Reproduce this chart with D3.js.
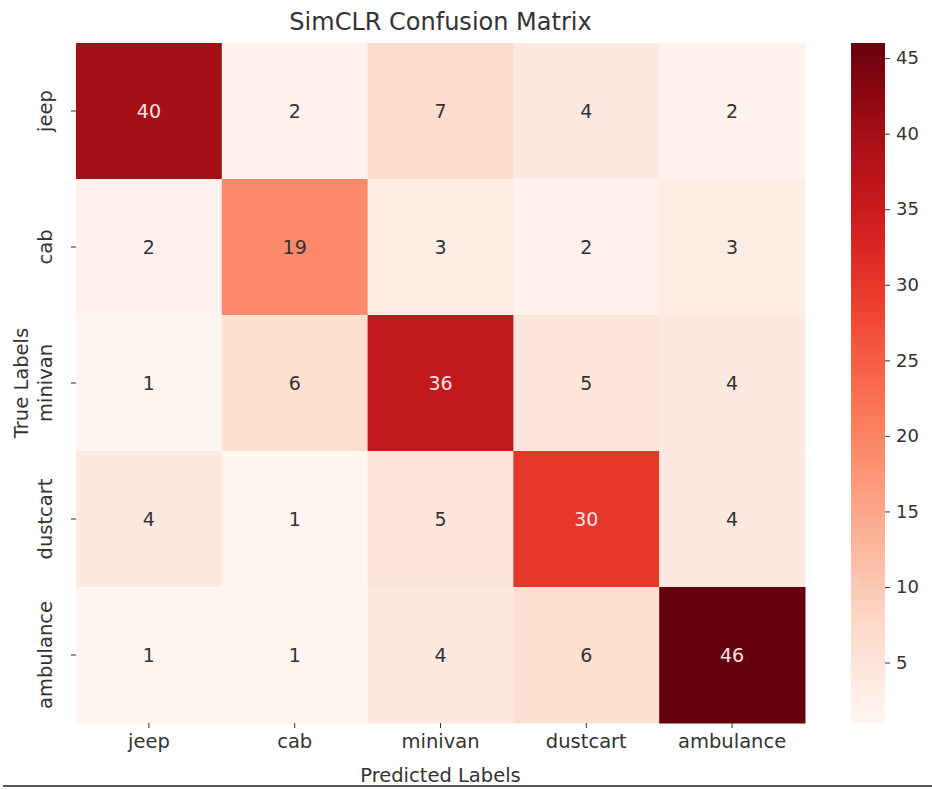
<!DOCTYPE html>
<html>
<head>
<meta charset="utf-8">
<script src="https://cdn.jsdelivr.net/npm/d3@7"></script>
<style>
  body { margin: 0; background: #fff; }
  svg text { font-family: "DejaVu Sans", sans-serif; fill: #333; }
</style>
</head>
<body>
<div id="chart"></div>
<script>
// Data
var classNames = ["jeep", "cab", "minivan", "dustcart", "ambulance"];
var matrixRows = [
    [40, 2, 7, 4, 2],
    [2, 19, 3, 2, 3],
    [1, 6, 36, 5, 4],
    [4, 1, 5, 30, 4],
    [1, 1, 4, 6, 46]
];
var colorTicks = [5, 10, 15, 20, 25, 30, 35, 40, 45];
var chartTitle = "SimCLR Confusion Matrix";
var xTitle = "Predicted Labels";
var yTitle = "True Labels";

// Layout
var width = 932, height = 790;
var plot = {left: 76, top: 43, right: 805, bottom: 723};
var bar = {left: 851, right: 885};

var svg = d3.select("#chart").append("svg")
    .attr("width", width)
    .attr("height", height);

var vmin = d3.min(matrixRows, function(r) { return d3.min(r); });
var vmax = d3.max(matrixRows, function(r) { return d3.max(r); });
var color = d3.scaleSequential(d3.interpolateReds).domain([vmin, vmax]);

var x = d3.scaleBand().domain(classNames).range([plot.left, plot.right]);
var y = d3.scaleBand().domain(classNames).range([plot.top, plot.bottom]);

var cells = [];
matrixRows.forEach(function(row, i) {
    row.forEach(function(v, j) {
        cells.push({t: classNames[i], p: classNames[j], v: v});
    });
});

// Heatmap cells
svg.append("g").selectAll("rect")
    .data(cells)
    .enter()
    .append("rect")
    .attr("x", function(d) { return x(d.p); })
    .attr("y", function(d) { return y(d.t); })
    .attr("width", x.bandwidth() + 0.5)
    .attr("height", y.bandwidth() + 0.5)
    .attr("fill", function(d) { return color(d.v); });

// Annotations, light text on dark cells
function isDark(v) {
    var c = d3.rgb(color(v));
    var lum = (0.299 * c.r + 0.587 * c.g + 0.114 * c.b) / 255;
    return lum < 0.6;
}
svg.append("g").selectAll("text")
    .data(cells)
    .enter()
    .append("text")
    .attr("x", function(d) { return x(d.p) + x.bandwidth() / 2; })
    .attr("y", function(d) { return y(d.t) + y.bandwidth() / 2; })
    .attr("text-anchor", "middle")
    .attr("dominant-baseline", "central")
    .style("font-size", "19px")
    .style("fill", function(d) { return isDark(d.v) ? "#f6e4e4" : "#333"; })
    .text(function(d) { return d.v; });

// Axes
var xAxis = svg.append("g")
    .attr("transform", "translate(0," + plot.bottom + ")")
    .call(d3.axisBottom(x).tickSize(5).tickPadding(6));
xAxis.select(".domain").remove();
xAxis.selectAll("text").style("font-size", "19.5px").attr("fill", "#333");
xAxis.selectAll("line").attr("stroke", "#333");

var yAxis = svg.append("g")
    .attr("transform", "translate(" + plot.left + ",0)")
    .call(d3.axisLeft(y).tickSize(5).tickPadding(6));
yAxis.select(".domain").remove();
yAxis.selectAll("line").attr("stroke", "#333");
yAxis.selectAll("text")
    .style("font-size", "19.5px")
    .attr("fill", "#333")
    .attr("text-anchor", "middle")
    .attr("dy", null)
    .attr("x", null)
    .attr("transform", "translate(-24,0) rotate(-90)");

// Colorbar
var defs = svg.append("defs");
var grad = defs.append("linearGradient")
    .attr("id", "cbGrad")
    .attr("x1", "0").attr("y1", "1").attr("x2", "0").attr("y2", "0");
d3.range(0, 1.0001, 0.05).forEach(function(t) {
    grad.append("stop")
        .attr("offset", t)
        .attr("stop-color", color(vmin + t * (vmax - vmin)));
});
svg.append("rect")
    .attr("x", bar.left)
    .attr("y", plot.top)
    .attr("width", bar.right - bar.left)
    .attr("height", plot.bottom - plot.top)
    .attr("fill", "url(#cbGrad)");

var cScale = d3.scaleLinear().domain([vmin, vmax]).range([plot.bottom, plot.top]);
var cAxis = svg.append("g")
    .attr("transform", "translate(" + bar.right + ",0)")
    .call(d3.axisRight(cScale).tickValues(colorTicks).tickSize(5).tickPadding(6));
cAxis.select(".domain").remove();
cAxis.selectAll("line").attr("stroke", "#333");
cAxis.selectAll("text").style("font-size", "18px").attr("fill", "#333");

// Titles
svg.append("text")
    .attr("x", (plot.left + plot.right) / 2)
    .attr("y", 30)
    .attr("text-anchor", "middle")
    .style("font-size", "24px")
    .text(chartTitle);

svg.append("text")
    .attr("x", (plot.left + plot.right) / 2)
    .attr("y", 782)
    .attr("text-anchor", "middle")
    .style("font-size", "19.5px")
    .text(xTitle);

svg.append("text")
    .attr("transform", "translate(28," + (plot.top + plot.bottom) / 2 + ") rotate(-90)")
    .attr("text-anchor", "middle")
    .style("font-size", "19.5px")
    .text(yTitle);

// Bottom rule
svg.append("line")
    .attr("x1", 3).attr("x2", width)
    .attr("y1", 786).attr("y2", 786)
    .attr("stroke", "#555")
    .attr("stroke-width", 2);
</script>
</body>
</html>
